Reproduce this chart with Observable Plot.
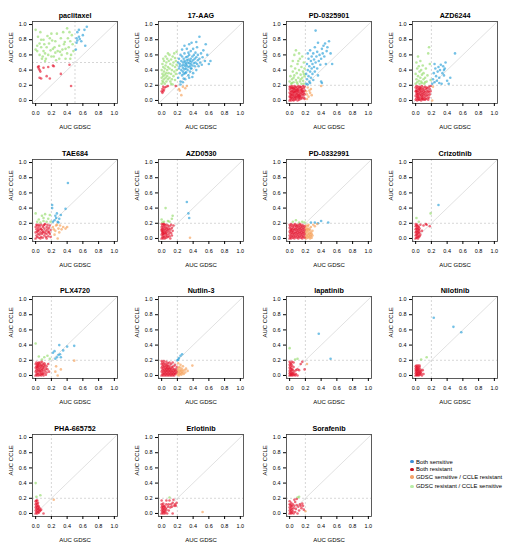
<!DOCTYPE html>
<html><head><meta charset="utf-8">
<script src="https://cdn.jsdelivr.net/npm/d3@7"></script>
<script src="https://cdn.jsdelivr.net/npm/@observablehq/plot@0.6"></script>
<style>
body{margin:0;background:#fff;}
#root{position:relative;width:513px;height:551px;font-family:"Liberation Sans",Arial,sans-serif;overflow:hidden;}
.panel{position:absolute;}
.lg{position:absolute;font-size:5.9px;color:#000;white-space:nowrap;line-height:1;}
.lg span.d{position:absolute;left:-5.7px;top:0.4px;width:3.4px;height:3.4px;border-radius:50%;}
</style></head><body><div id="root"></div>
<script>
// ---- data (AUC GDSC, AUC CCLE) per drug ----
const drugNames = ["paclitaxel","17-AAG","PD-0325901","AZD6244","TAE684","AZD0530","PD-0332991","Crizotinib","PLX4720","Nutlin-3","lapatinib","Nilotinib","PHA-665752","Erlotinib","Sorafenib"];
const gdscThreshold = [0.5,0.2,0.2,0.2,0.2,0.2,0.2,0.2,0.2,0.2,0.2,0.2,0.2,0.2,0.2];
const ccleThreshold = [0.5,0.2,0.2,0.2,0.2,0.2,0.2,0.2,0.2,0.2,0.2,0.2,0.2,0.2,0.2];
const categories = ["Both sensitive","Both resistant","GDSC sensitive / CCLE resistant","GDSC resistant / CCLE sensitive"];
const tickValues = [0,0.2,0.4,0.6,0.8,1.0];
const axisDomain = [-0.04,1.04];

const paclitaxel = [
[.00,.93],[.03,.84],[.05,.75],[.00,.67],[.02,.65],[.05,.60],[.07,.70],[.10,.80],[.12,.62],[.13,.55],[.12,.52],[.15,.85],[.17,.75],[.18,.82],[.20,.88],[.22,.68],[.23,.58],[.25,.78],[.27,.88],[.28,.65],[.30,.72],[.32,.82],[.33,.60],[.35,.90],[.37,.77],[.38,.68],[.40,.95],[.41,.82],[.42,.70],[.44,.78],[.46,.86],[.47,.74],[.48,.65],[.45,.60],[.08,.55],[.10,.65],[.14,.70],[.20,.58],[.25,.63],[.30,.55],[.34,.67],[.38,.55],[.40,.62],[.16,.60],[.06,.90],[.09,.58],[.19,.66],[.26,.53],[.36,.74],[.43,.90],[.02,.72],[.11,.74],[.21,.79],[.31,.64],[.44,.55],[.07,.80],[.24,.70],
[.53,.90],[.55,.93],[.65,.97],[.62,.93],[.52,.82],[.53,.79],[.55,.84],[.58,.78],[.60,.86],[.63,.72],[.51,.67],[.52,.76],[.56,.81],
[.03,.44],[.04,.42],[.05,.40],[.06,.38],[.05,.30],[.07,.29],[.10,.43],[.14,.32],[.16,.44],[.18,.29],[.22,.46],[.23,.45],[.32,.35],[.43,.47],[.45,.19],[.04,.45]];

const aag17 = [
[.00,.22],[.00,.30],[.00,.40],[.01,.26],[.01,.35],[.01,.48],[.02,.24],[.02,.32],[.02,.44],[.03,.28],[.03,.38],[.03,.52],[.04,.22],[.04,.34],[.04,.42],[.05,.30],[.05,.46],[.05,.58],[.06,.25],[.06,.36],[.06,.50],[.07,.32],[.07,.40],[.07,.55],[.08,.28],[.08,.44],[.09,.36],[.09,.52],[.10,.30],[.10,.42],[.10,.60],[.11,.25],[.11,.48],[.12,.35],[.12,.54],[.13,.40],[.13,.28],[.14,.46],[.14,.58],[.15,.32],[.15,.50],[.16,.38],[.16,.62],[.17,.44],[.17,.27],[.18,.52],[.18,.35],[.19,.47],[.19,.64],[.19,.40],[.08,.62],[.12,.22],[.02,.55],[.14,.21],[.17,.56],
[.21,.30],[.22,.42],[.22,.55],[.23,.36],[.23,.48],[.24,.60],[.24,.25],[.25,.40],[.25,.52],[.26,.33],[.26,.46],[.26,.58],[.27,.43],[.27,.50],[.27,.38],[.28,.55],[.28,.47],[.28,.29],[.29,.41],[.29,.52],[.29,.62],[.30,.45],[.30,.50],[.30,.36],[.31,.48],[.31,.57],[.31,.42],[.32,.53],[.32,.46],[.32,.68],[.33,.40],[.33,.50],[.33,.58],[.34,.44],[.34,.54],[.34,.33],[.35,.49],[.35,.60],[.35,.74],[.36,.45],[.36,.52],[.36,.38],[.37,.55],[.37,.48],[.37,.65],[.38,.42],[.38,.51],[.38,.76],[.39,.58],[.39,.46],[.40,.53],[.40,.36],[.40,.68],[.41,.49],[.41,.60],[.42,.45],[.42,.55],[.43,.50],[.43,.63],[.44,.40],[.44,.57],[.45,.48],[.45,.70],[.46,.53],[.46,.60],[.47,.45],[.48,.84],[.48,.55],[.49,.50],[.50,.62],[.51,.47],[.52,.57],[.53,.66],[.55,.52],[.56,.74],[.58,.60],[.60,.48],[.62,.52],[.24,.21],[.27,.24],[.30,.28],[.35,.30],[.39,.31],[.26,.67],[.29,.72],[.44,.77],[.21,.50],[.23,.45],[.31,.37],[.34,.63],[.37,.42],[.28,.35],
[.00,.12],[.01,.15],[.01,.10],[.02,.18],[.03,.14],[.04,.17],[.06,.18],[.08,.19],[.18,.19],[.02,.12],
[.22,.15],[.23,.13],[.25,.07],[.27,.18],[.30,.16],[.32,.19]];

const pd0325901 = [
[.00,.25],[.01,.32],[.02,.22],[.02,.45],[.03,.28],[.04,.38],[.04,.52],[.05,.24],[.06,.33],[.06,.60],[.07,.42],[.08,.27],[.08,.66],[.09,.36],[.10,.22],[.10,.48],[.11,.30],[.12,.40],[.12,.62],[.13,.25],[.13,.55],[.14,.34],[.15,.44],[.15,.22],[.16,.30],[.16,.58],[.17,.38],[.17,.26],[.18,.50],[.18,.22],[.19,.42],[.19,.32],[.05,.30],[.14,.28],[.11,.52],[.03,.23],[.09,.24],[.18,.35],
[.21,.22],[.21,.35],[.22,.28],[.22,.48],[.23,.40],[.23,.62],[.24,.32],[.24,.55],[.25,.25],[.25,.45],[.26,.38],[.26,.66],[.27,.30],[.27,.52],[.28,.42],[.28,.58],[.29,.35],[.29,.48],[.30,.62],[.30,.27],[.31,.44],[.31,.54],[.32,.38],[.32,.70],[.33,.92],[.33,.50],[.34,.58],[.35,.42],[.35,.64],[.36,.76],[.37,.52],[.38,.60],[.39,.47],[.40,.55],[.40,.25],[.41,.68],[.42,.62],[.43,.72],[.44,.58],[.45,.75],[.46,.48],[.47,.65],[.48,.70],[.50,.78],[.52,.62],[.54,.48],[.41,.23],[.36,.33],[.23,.21],[.26,.23],
[.21,.12],[.22,.08],[.23,.17],[.24,.05],[.25,.13],[.26,.10],[.27,.15],[.28,.07],[.22,.02],[.40,.19],
[.00,.00],[.00,.05],[.00,.10],[.00,.15],[.01,.02],[.01,.08],[.01,.13],[.01,.18],[.02,.00],[.02,.04],[.02,.11],[.02,.16],[.03,.03],[.03,.07],[.03,.12],[.03,.19],[.04,.01],[.04,.06],[.04,.14],[.04,.17],[.05,.00],[.05,.09],[.05,.12],[.05,.16],[.06,.03],[.06,.07],[.06,.15],[.06,.19],[.07,.01],[.07,.05],[.07,.11],[.07,.17],[.08,.02],[.08,.09],[.08,.13],[.08,.18],[.09,.04],[.09,.08],[.09,.15],[.10,.00],[.10,.06],[.10,.11],[.10,.17],[.11,.03],[.11,.09],[.11,.14],[.11,.19],[.12,.01],[.12,.07],[.12,.12],[.12,.16],[.13,.04],[.13,.10],[.13,.18],[.14,.02],[.14,.08],[.14,.14],[.15,.05],[.15,.11],[.15,.17],[.16,.03],[.16,.09],[.16,.15],[.17,.07],[.17,.12],[.17,.19],[.18,.04],[.18,.10],[.18,.16],[.19,.08],[.19,.13],[.19,.18],[.02,.08],[.05,.04],[.09,.12],[.13,.06],[.06,.11],[.03,.16],[.11,.06],[.15,.14],[.07,.14],[.01,.05],[.04,.10],[.08,.05],[.10,.14],[.14,.18],[.12,.04],[.16,.12],[.00,.18],[.19,.02]];

const azd6244 = [
[.00,.22],[.00,.35],[.01,.28],[.01,.50],[.02,.42],[.02,.24],[.03,.32],[.03,.58],[.04,.26],[.04,.45],[.05,.38],[.05,.22],[.06,.30],[.06,.52],[.07,.25],[.07,.40],[.08,.34],[.08,.23],[.09,.46],[.10,.28],[.10,.36],[.11,.22],[.12,.30],[.13,.42],[.14,.25],[.15,.33],[.16,.62],[.17,.70],[.18,.48],[.19,.27],[.12,.24],
[.21,.22],[.22,.28],[.23,.36],[.24,.24],[.25,.42],[.26,.32],[.27,.26],[.28,.38],[.29,.44],[.30,.30],[.31,.40],[.32,.47],[.33,.22],[.34,.36],[.35,.45],[.36,.33],[.37,.42],[.38,.50],[.40,.26],[.42,.22],[.44,.30],[.50,.62],[.24,.48],[.30,.23],[.36,.40],
[.22,.18],[.21,.00],
[.00,.01],[.00,.06],[.00,.12],[.00,.17],[.01,.03],[.01,.09],[.01,.14],[.01,.19],[.02,.00],[.02,.05],[.02,.11],[.02,.16],[.03,.02],[.03,.08],[.03,.13],[.03,.18],[.04,.04],[.04,.10],[.04,.15],[.05,.01],[.05,.07],[.05,.12],[.05,.18],[.06,.03],[.06,.09],[.06,.14],[.07,.00],[.07,.06],[.07,.11],[.07,.16],[.08,.02],[.08,.08],[.08,.13],[.08,.19],[.09,.05],[.09,.10],[.09,.15],[.10,.01],[.10,.07],[.10,.12],[.10,.17],[.11,.03],[.11,.09],[.11,.14],[.12,.05],[.12,.11],[.12,.18],[.13,.02],[.13,.08],[.13,.15],[.14,.06],[.14,.12],[.15,.03],[.15,.10],[.15,.16],[.16,.07],[.16,.13],[.17,.04],[.17,.11],[.17,.18],[.18,.08],[.18,.15],[.19,.12],[.19,.19],[.02,.08],[.04,.01],[.06,.17],[.09,.02],[.03,.05],[.01,.12],[.05,.15],[.08,.04],[.12,.01],[.14,.17],[.16,.01]];

const tae684 = [
[.00,.33],[.02,.22],[.04,.25],[.06,.21],[.08,.30],[.10,.23],[.12,.32],[.14,.22],[.16,.26],[.18,.31],[.19,.22],[.10,.27],
[.21,.44],[.21,.40],[.22,.22],[.24,.24],[.25,.30],[.26,.27],[.27,.33],[.28,.22],[.30,.26],[.32,.31],[.38,.39],[.41,.73],[.29,.21],
[.22,.15],[.24,.05],[.25,.10],[.26,.17],[.27,.18],[.28,.00],[.29,.13],[.30,.08],[.31,.17],[.33,.12],[.35,.15],[.38,.13],[.40,.15],[.23,.12],
[.00,.00],[.00,.08],[.00,.15],[.01,.04],[.01,.12],[.01,.18],[.02,.02],[.02,.09],[.03,.06],[.03,.14],[.04,.01],[.04,.11],[.04,.18],[.05,.05],[.05,.16],[.06,.08],[.06,.13],[.07,.02],[.07,.18],[.08,.06],[.08,.11],[.09,.15],[.09,.01],[.10,.09],[.10,.17],[.11,.04],[.11,.13],[.12,.07],[.12,.19],[.13,.10],[.13,.02],[.14,.15],[.14,.06],[.15,.12],[.15,.18],[.16,.03],[.16,.09],[.17,.14],[.18,.06],[.18,.17],[.19,.11],[.19,.02],[.02,.17],[.06,.00],[.09,.08],[.03,.10],[.11,.18],[.07,.12],[.14,.00],[.17,.08]];

const azd0530 = [
[.00,.25],[.01,.21],[.05,.40],[.08,.23],[.10,.22],[.13,.26],[.14,.30],[.03,.22],
[.32,.48],[.34,.33],[.35,.27],
[.36,.01],
[.00,.00],[.00,.05],[.00,.10],[.00,.15],[.00,.19],[.01,.02],[.01,.07],[.01,.12],[.01,.17],[.02,.00],[.02,.04],[.02,.09],[.02,.14],[.02,.19],[.03,.02],[.03,.06],[.03,.11],[.03,.16],[.04,.00],[.04,.08],[.04,.13],[.04,.18],[.05,.03],[.05,.10],[.05,.15],[.06,.01],[.06,.06],[.06,.12],[.06,.18],[.07,.04],[.07,.09],[.07,.14],[.08,.02],[.08,.11],[.08,.17],[.09,.06],[.09,.13],[.10,.03],[.10,.09],[.10,.16],[.11,.00],[.11,.12],[.12,.07],[.12,.18],[.13,.04],[.13,.14],[.14,.10],[.15,.17],[.01,.09],[.03,.19],[.05,.07],[.02,.06],[.00,.12]];

const pd0332991 = [
[.04,.22],[.08,.24],[.12,.21],[.16,.22],[.19,.21],
[.27,.21],[.32,.21],[.36,.20],[.40,.23],[.49,.21],
[.20,.02],[.20,.08],[.20,.14],[.21,.00],[.21,.05],[.21,.11],[.21,.17],[.22,.03],[.22,.09],[.22,.13],[.23,.01],[.23,.06],[.23,.12],[.23,.16],[.24,.04],[.24,.10],[.24,.18],[.25,.02],[.25,.07],[.25,.13],[.26,.00],[.26,.05],[.26,.11],[.27,.03],[.27,.08],[.27,.15],[.28,.01],[.28,.06],[.29,.04],[.29,.10],[.30,.18],[.35,.19],[.32,.16],
[.00,.00],[.00,.04],[.00,.09],[.00,.14],[.00,.18],[.01,.02],[.01,.07],[.01,.11],[.01,.16],[.02,.00],[.02,.05],[.02,.10],[.02,.13],[.02,.19],[.03,.03],[.03,.08],[.03,.12],[.03,.17],[.04,.01],[.04,.06],[.04,.10],[.04,.15],[.05,.03],[.05,.08],[.05,.13],[.05,.18],[.06,.00],[.06,.05],[.06,.11],[.06,.16],[.07,.02],[.07,.07],[.07,.12],[.07,.19],[.08,.04],[.08,.09],[.08,.14],[.08,.17],[.09,.01],[.09,.06],[.09,.11],[.09,.16],[.10,.03],[.10,.08],[.10,.13],[.10,.18],[.11,.00],[.11,.05],[.11,.10],[.11,.15],[.12,.02],[.12,.07],[.12,.12],[.12,.17],[.13,.04],[.13,.09],[.13,.14],[.13,.19],[.14,.01],[.14,.06],[.14,.11],[.14,.16],[.15,.03],[.15,.08],[.15,.13],[.15,.18],[.16,.00],[.16,.05],[.16,.10],[.16,.15],[.17,.02],[.17,.07],[.17,.12],[.17,.17],[.18,.04],[.18,.09],[.18,.14],[.19,.01],[.19,.06],[.19,.11],[.19,.16]];

const crizotinib = [
[.01,.27],[.04,.22],[.19,.33],
[.29,.44],
[.00,.00],[.00,.04],[.00,.08],[.00,.12],[.00,.16],[.00,.19],[.01,.01],[.01,.05],[.01,.09],[.01,.13],[.01,.17],[.02,.02],[.02,.06],[.02,.10],[.02,.14],[.02,.18],[.03,.00],[.03,.04],[.03,.08],[.03,.12],[.03,.16],[.04,.02],[.04,.07],[.04,.11],[.04,.15],[.05,.03],[.05,.09],[.05,.13],[.06,.05],[.06,.18],[.10,.17],[.13,.19],[.14,.18],[.18,.16],[.08,.10]];

const plx4720 = [
[.00,.42],[.04,.25],[.08,.21],[.11,.24],[.15,.26],[.18,.22],
[.22,.30],[.24,.32],[.25,.22],[.27,.24],[.29,.27],[.30,.40],[.31,.28],[.32,.24],[.35,.33],[.40,.38],[.49,.39],
[.25,.05],[.26,.12],[.28,.00],[.32,.08],[.49,.195],
[.00,.00],[.00,.05],[.00,.10],[.00,.15],[.01,.02],[.01,.07],[.01,.12],[.01,.17],[.02,.00],[.02,.04],[.02,.09],[.02,.14],[.03,.02],[.03,.06],[.03,.11],[.03,.16],[.04,.00],[.04,.08],[.04,.13],[.05,.03],[.05,.10],[.05,.15],[.06,.01],[.06,.06],[.06,.12],[.06,.17],[.07,.04],[.07,.09],[.07,.14],[.08,.02],[.08,.07],[.08,.12],[.08,.18],[.09,.05],[.09,.10],[.09,.15],[.10,.00],[.10,.08],[.10,.13],[.11,.03],[.11,.11],[.11,.16],[.12,.06],[.12,.14],[.13,.01],[.13,.09],[.14,.04],[.14,.12],[.15,.08],[.16,.15],[.17,.05],[.02,.11],[.05,.06],[.03,.14],[.07,.00],[.09,.02],[.04,.17]];

const nutlin3 = [
[.20,.20],[.21,.21],[.22,.23],[.24,.26],[.26,.28],
[.20,.01],[.20,.06],[.21,.03],[.21,.09],[.22,.00],[.22,.05],[.22,.11],[.23,.02],[.23,.07],[.24,.04],[.24,.10],[.25,.01],[.25,.06],[.26,.03],[.26,.08],[.27,.05],[.27,.12],[.28,.02],[.29,.07],[.30,.04],[.31,.09],[.33,.06],[.39,.13],[.24,.14],[.21,.16],
[.00,.00],[.00,.05],[.00,.10],[.00,.15],[.00,.19],[.01,.02],[.01,.07],[.01,.12],[.01,.17],[.02,.00],[.02,.04],[.02,.09],[.02,.14],[.03,.02],[.03,.06],[.03,.11],[.03,.16],[.04,.00],[.04,.04],[.04,.08],[.04,.13],[.05,.02],[.05,.06],[.05,.10],[.05,.15],[.06,.00],[.06,.04],[.06,.08],[.06,.12],[.06,.18],[.07,.02],[.07,.06],[.07,.10],[.07,.14],[.08,.00],[.08,.04],[.08,.08],[.08,.12],[.08,.16],[.09,.02],[.09,.06],[.09,.10],[.10,.00],[.10,.04],[.10,.08],[.10,.13],[.11,.02],[.11,.06],[.11,.10],[.12,.00],[.12,.04],[.12,.08],[.12,.15],[.13,.02],[.13,.06],[.13,.11],[.14,.00],[.14,.04],[.14,.09],[.15,.02],[.15,.06],[.15,.12],[.16,.00],[.16,.04],[.16,.08],[.17,.02],[.17,.06],[.17,.14],[.18,.03],[.18,.08],[.19,.05],[.19,.11],[.03,.19],[.10,.17],[.14,.17]];

const lapatinib = [
[.00,.36],[.07,.21],[.10,.22],
[.37,.55],[.52,.22],
[.22,.15],
[.00,.00],[.00,.03],[.00,.06],[.00,.10],[.00,.14],[.00,.18],[.01,.01],[.01,.04],[.01,.08],[.01,.12],[.01,.16],[.02,.00],[.02,.02],[.02,.06],[.02,.10],[.02,.15],[.03,.01],[.03,.04],[.03,.08],[.03,.13],[.04,.00],[.04,.03],[.04,.07],[.05,.02],[.05,.11],[.06,.01],[.06,.05],[.07,.00],[.08,.07],[.10,.08],[.12,.07],[.14,.15],[.16,.18],[.19,.08],[.05,.17],[.08,.02],[.10,.00],[.03,.18]];

const nilotinib = [
[.07,.21],[.14,.24],
[.23,.76],[.48,.64],[.58,.57],
[.00,.00],[.00,.03],[.00,.06],[.00,.09],[.00,.12],[.01,.01],[.01,.04],[.01,.07],[.01,.10],[.01,.13],[.02,.00],[.02,.02],[.02,.05],[.02,.08],[.02,.11],[.03,.01],[.03,.04],[.03,.07],[.03,.10],[.03,.13],[.04,.00],[.04,.03],[.04,.06],[.04,.09],[.05,.02],[.05,.05],[.05,.11],[.06,.01],[.06,.04],[.06,.08],[.07,.03],[.07,.06],[.08,.00],[.09,.07],[.10,.02],[.05,.13]];

const pha665752 = [
[.00,.40],[.01,.22],[.06,.24],
[.23,.18],
[.00,.00],[.00,.04],[.00,.08],[.00,.12],[.00,.16],[.01,.02],[.01,.06],[.01,.10],[.01,.14],[.02,.00],[.02,.04],[.02,.08],[.02,.12],[.02,.17],[.03,.02],[.03,.06],[.03,.10],[.04,.01],[.04,.05],[.04,.09],[.05,.03],[.05,.07],[.06,.04],[.07,.05],[.10,.00],[.01,.17],[.03,.14]];

const erlotinib = [
[.10,.21],
[.52,.02],
[.00,.00],[.00,.04],[.00,.08],[.00,.12],[.00,.17],[.01,.02],[.01,.06],[.01,.10],[.02,.00],[.02,.04],[.02,.08],[.02,.13],[.03,.02],[.03,.06],[.03,.10],[.04,.00],[.04,.04],[.04,.09],[.05,.02],[.05,.07],[.06,.05],[.06,.12],[.07,.00],[.08,.09],[.09,.04],[.10,.17],[.11,.08],[.12,.12],[.13,.09],[.14,.00],[.15,.18],[.16,.10],[.17,.12],[.18,.10],[.19,.14],[.14,.14],[.06,.17],[.09,.12]];

const sorafenib = [
[.10,.21],[.12,.22],
[.20,.03],
[.00,.00],[.00,.04],[.00,.08],[.00,.12],[.00,.16],[.01,.02],[.01,.06],[.01,.11],[.02,.00],[.02,.04],[.02,.09],[.02,.14],[.03,.01],[.03,.06],[.03,.10],[.04,.03],[.04,.12],[.05,.00],[.05,.07],[.06,.10],[.07,.02],[.07,.15],[.08,.06],[.09,.11],[.10,.00],[.11,.09],[.12,.04],[.13,.12],[.14,.10],[.15,.07],[.16,.13],[.17,.10],[.18,.05],[.06,.18],[.09,.19]];

const drugPoints = [paclitaxel, aag17, pd0325901, azd6244, tae684, azd0530, pd0332991, crizotinib, plx4720, nutlin3, lapatinib, nilotinib, pha665752, erlotinib, sorafenib];

// ---- styling ----
const pointColors = ["#1E9BD7","#E4102A","#F59B4F","#8FDA66"];
const legendColors = ["#3D8ED6","#C8101E","#F4A36B","#B9EDA6"];
const colOffsets = [0,126,254,380];
const rowOffsets = [0,138,275,413];
const font = "'Liberation Sans', Arial, Helvetica, sans-serif";

function classify(x, y, tx, ty) {
  if (x >= tx && y >= ty) return categories[0];
  if (x < tx && y < ty) return categories[1];
  if (x >= tx && y < ty) return categories[2];
  return categories[3];
}

const root = document.getElementById("root");

drugNames.forEach((name, i) => {
  const tx = gdscThreshold[i], ty = ccleThreshold[i];
  const data = drugPoints[i].map(([x, y]) => ({x, y, cat: classify(x, y, tx, ty)}));
  const svg = Plot.plot({
    width: 128, height: 138,
    marginLeft: 32, marginRight: 11, marginTop: 21, marginBottom: 35,
    x: {domain: axisDomain}, y: {domain: axisDomain},
    color: {type: "ordinal", domain: categories, range: pointColors},
    style: {fontFamily: font, background: "transparent", overflow: "visible", color: "#000"},
    marks: [
      Plot.ruleX([tx], {stroke: "#c4c4c4", strokeWidth: 0.7, strokeDasharray: "2,2"}),
      Plot.ruleY([ty], {stroke: "#c4c4c4", strokeWidth: 0.7, strokeDasharray: "2,2"}),
      Plot.line(axisDomain.map(v => [v, v]), {stroke: "#d4d4d4", strokeWidth: 0.7}),
      Plot.dot(data, {x: "x", y: "y", fill: "cat", r: 1.3, fillOpacity: 0.62, stroke: null}),
      Plot.frame({stroke: "#333", strokeWidth: 0.8}),
      Plot.axisX({ticks: tickValues, tickFormat: d3.format(".1f"), tickSize: 3, tickPadding: 5, fontSize: 5.5, label: null}),
      Plot.axisY({ticks: tickValues, tickFormat: d3.format(".1f"), tickSize: 3, tickPadding: 3, fontSize: 5.5, label: null}),
      Plot.text([name], {text: d => d, frameAnchor: "top", dy: -8.3, fontWeight: "bold", fontSize: 7.2}),
      Plot.text(["AUC GDSC"], {text: d => d, frameAnchor: "bottom", dy: 25, fontSize: 6}),
      Plot.text(["AUC CCLE"], {text: d => d, frameAnchor: "left", dx: -21, rotate: -90, fontSize: 6})
    ]
  });
  const div = document.createElement("div");
  div.className = "panel";
  div.style.left = colOffsets[i % 4] + "px";
  div.style.top = rowOffsets[Math.floor(i / 4)] + "px";
  div.appendChild(svg);
  root.appendChild(div);
});

// legend
const legendTop = [459.6, 467.2, 475.0, 484.4];
categories.forEach((c, k) => {
  const item = document.createElement("div");
  item.className = "lg";
  item.style.left = "416px";
  item.style.top = legendTop[k] + "px";
  item.innerHTML = `<span class="d" style="background:${legendColors[k]}"></span>${c}`;
  root.appendChild(item);
});
</script>
</body></html>
